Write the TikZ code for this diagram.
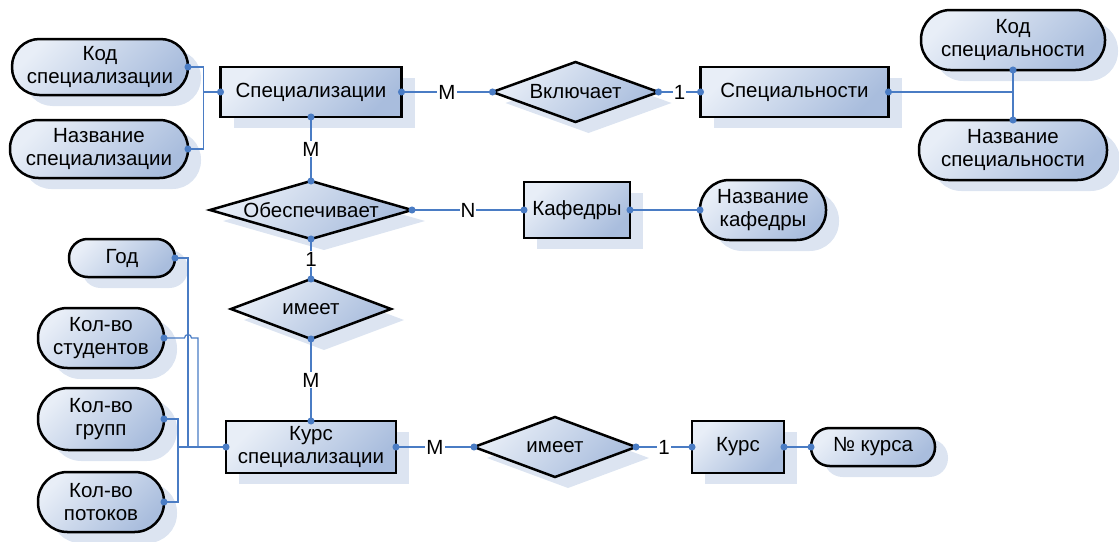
\documentclass[tikz,border=0pt]{standalone}
\usepackage{fontspec}
\setmainfont{Liberation Sans}
\usetikzlibrary{shapes.geometric, arrows.meta, positioning, shadows}
\definecolor{linkblue}{HTML}{4A7CC4}
\definecolor{shadowblue}{HTML}{DCE4F1}
\definecolor{filltop}{HTML}{E8EEF7}
\definecolor{fillbot}{HTML}{A9BDDD}
\newcommand{\erfont}{\fontsize{20.5}{22.5}\selectfont}
\tikzset{
    boxshadow/.style={general shadow={fill=shadowblue, shadow xshift=13pt, shadow yshift=-11pt}},
    entity/.style={rectangle, draw=black, line width=2.5pt, top color=filltop, bottom color=fillbot, shading angle=45, boxshadow, align=center, font=\erfont, inner sep=2pt, outer sep=0pt},
    relation/.style={diamond, aspect=3.3, draw=black, line width=2.5pt, top color=filltop, bottom color=fillbot, shading angle=45, boxshadow, align=center, font=\erfont, inner sep=-8pt, outer sep=0pt},
    attrib/.style={rectangle, rounded corners=0.49*#1, minimum height=#1, draw=black, line width=2.5pt, top color=filltop, bottom color=fillbot, shading angle=45, boxshadow, align=center, font=\erfont, inner sep=0pt, outer sep=0pt},
    link/.style={draw=linkblue, line width=1.2pt},
    dots/.style={link, {Circle[length=7pt]}-{Circle[length=7pt]}, shorten <=-3.5pt, shorten >=-3.5pt},
    dotstart/.style={link, {Circle[length=7pt]}-, shorten <=-3.5pt},
    card/.style={fill=white, inner sep=1pt, font=\erfont}
}
\begin{document}
\begin{tikzpicture}[x=1pt, y=-1pt]
    \useasboundingbox (0,0) rectangle (1119,541);

    % Top row
    \node[entity, minimum width=181pt, minimum height=50pt] (spec) at (311,92) {Специализации};
    \node[relation, minimum width=166pt, minimum height=60pt, right=91pt of spec] (incl) {Включает};
    \node[entity, minimum width=188pt, minimum height=50pt, right=42pt of incl] (spclt) {Специальности};
    \node[attrib=60pt, minimum width=184pt] (kodspc) at (1013,40) {Код\\специальности};
    \node[attrib=60pt, minimum width=188pt] (nazspc) at (1013,150) {Название\\специальности};
    \node[attrib=56pt, minimum width=176pt] (kodsz) at (100,67) {Код\\специализации};
    \node[attrib=58pt, minimum width=178pt] (nazsz) at (99,149) {Название\\специализации};

    % Middle column
    \node[relation, minimum width=202pt, minimum height=58pt, below=64pt of spec] (obesp) {Обеспечивает};
    \node[entity, minimum width=106pt, minimum height=56pt, right=112pt of obesp] (kaf) {Кафедры};
    \node[attrib=60pt, minimum width=126pt, right=70pt of kaf] (nazkaf) {Название\\кафедры};
    \node[relation, minimum width=160pt, minimum height=60pt, below=40pt of obesp] (imeetA) {имеет};
    \node[entity, minimum width=170pt, minimum height=52pt, below=82pt of imeetA] (kurssp) {Курс\\специализации};

    % Bottom row
    \node[relation, minimum width=162pt, minimum height=60pt, right=78pt of kurssp] (imeetB) {имеет};
    \node[entity, minimum width=92pt, minimum height=52pt, right=56pt of imeetB] (kurs) {Курс};
    \node[attrib=38pt, minimum width=124pt, right=27pt of kurs] (nkurs) {№ курса};

    % Attributes of Kurs specializacii
    \node[attrib=38pt, minimum width=106pt] (god) at (122,258) {Год};
    \node[attrib=60pt, minimum width=126pt] (kst) at (101,338) {Кол-во\\студентов};
    \node[attrib=62pt, minimum width=126pt] (kgr) at (101,419) {Кол-во\\групп};
    \node[attrib=60pt, minimum width=126pt] (kpt) at (101,502) {Кол-во\\потоков};

    % Junctions
    \coordinate (jsz) at ([xshift=-17pt]spec.west);
    \coordinate (jspc) at (spclt.east -| kodspc.south);
    \coordinate (jgod) at ([xshift=-38pt]kurssp.west);
    \coordinate (jstb) at ([xshift=-28pt]kurssp.west);
    \coordinate (jgr) at ([xshift=-48pt]kurssp.west);
    \coordinate (jst) at (jstb |- kst.east);
    \coordinate (hop) at ([xshift=-3.5pt]jgod |- kst.east);

    % Relationships
    \draw[dots] (spec.east) -- node[card] (c1) {M} (incl.west);
    \draw[dots] (incl.east) -- node[card] (c2) {1} (spclt.west);
    \draw[dots] (spec.south) -- node[card] (c3) {M} (obesp.north);
    \draw[dots] (obesp.east) -- node[card] (c4) {N} (kaf.west);
    \draw[dots] (obesp.south) -- node[card] (c5) {1} (imeetA.north);
    \draw[dots] (imeetA.south) -- node[card] (c6) {M} (kurssp.north);
    \draw[dots] (kurssp.east) -- node[card] (c7) {M} (imeetB.west);
    \draw[dots] (imeetB.east) -- node[card] (c8) {1} (kurs.west);

    % Attribute links
    \draw[dots] (kodsz.east) -| (jsz) -- (spec.west);
    \draw[dotstart] (nazsz.east) -| (jsz);
    \draw[dotstart] (spclt.east) -- (jspc);
    \draw[dots] (kodspc.south) -- (nazspc.north);
    \draw[dots] (kaf.east) -- (nazkaf.west);
    \draw[dots] (kurs.east) -- (nkurs.west);
    \draw[dotstart] (god.east) -| (jgod);
    \draw[dotstart] (kst.east) -- (hop) arc (180:360:3.5) -- (jst) -- (jstb);
    \draw[dots] (kgr.east) -| (jgr) -- (kurssp.west);
    \draw[dotstart] (kpt.east) -| (jgr);

\end{tikzpicture}
\end{document}
